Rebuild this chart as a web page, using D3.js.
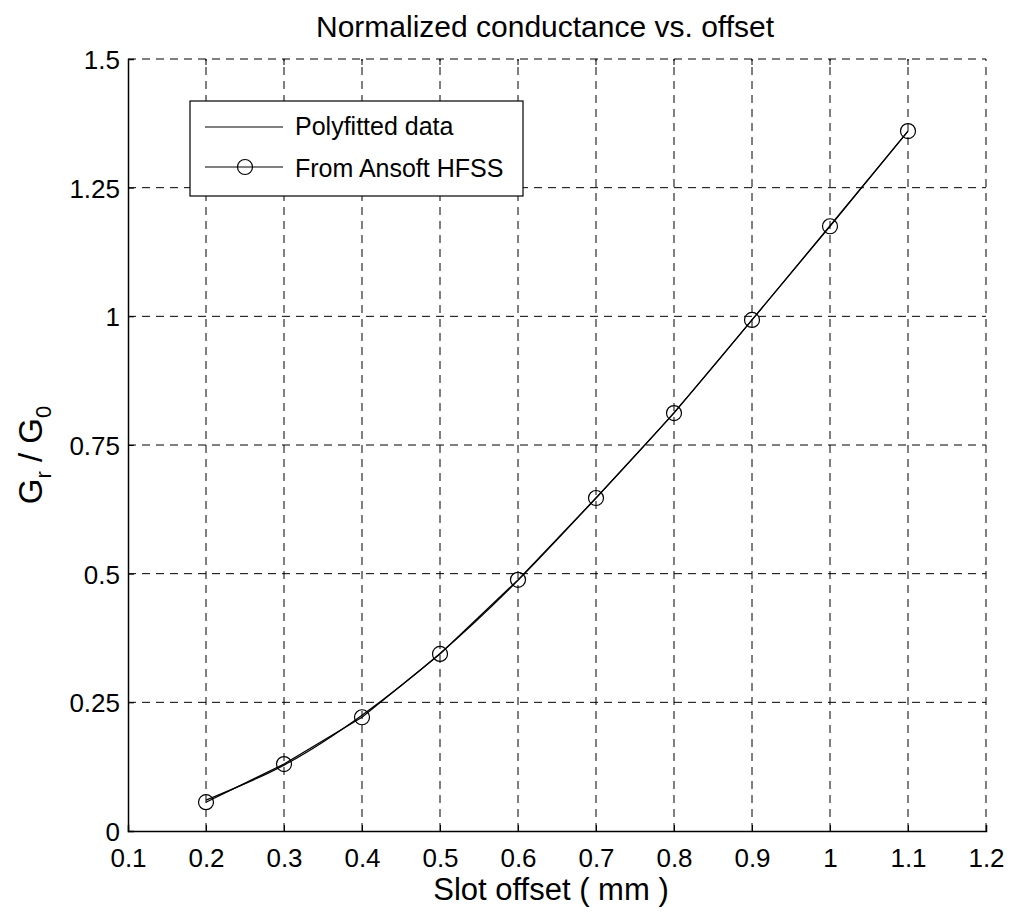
<!DOCTYPE html>
<html><head><meta charset="utf-8">
<script src="https://cdn.jsdelivr.net/npm/d3@7"></script>
<style>body{margin:0;background:#fff;} text{font-family:"Liberation Sans",Arial,sans-serif;fill:#000;}</style>
</head><body>
<script>
const offsets = [0.2,0.3,0.4,0.5,0.6,0.7,0.8,0.9,1.0,1.1];
const hfssValues = [0.056,0.130,0.221,0.344,0.488,0.647,0.812,0.993,1.175,1.360];
const polyValues = [0.060,0.128,0.225,0.345,0.487,0.647,0.813,0.993,1.176,1.360];
const xTicks = [0.1,0.2,0.3,0.4,0.5,0.6,0.7,0.8,0.9,1,1.1,1.2];
const yTicks = [0,0.25,0.5,0.75,1,1.25,1.5];
const seriesNames = ["Polyfitted data","From Ansoft HFSS"];
const title = "Normalized conductance vs. offset";
const xLabel = "Slot offset ( mm )";

const W=1013,H=924;
const m={l:128,r:1013-986,t:59,b:924-831};
const svg=d3.select("body").append("svg").attr("width",W).attr("height",H);
const x=d3.scaleLinear().domain([0.1,1.2]).range([m.l,W-m.r]);
const y=d3.scaleLinear().domain([0,1.5]).range([H-m.b,m.t]);

// grid
const g=svg.append("g").attr("stroke","#000").attr("stroke-width",1).attr("stroke-dasharray","8,6");
xTicks.forEach(t=>{ if(t>0.1) g.append("line").attr("x1",x(t)).attr("x2",x(t)).attr("y1",y(0)).attr("y2",y(1.5)); });
yTicks.forEach(t=>{ if(t>0) g.append("line").attr("x1",x(0.1)).attr("x2",x(1.2)).attr("y1",y(t)).attr("y2",y(t)); });

// axes
const xAxis=d3.axisBottom(x).tickValues(xTicks).tickSize(-6).tickPadding(10).tickFormat(d=>String(d));
const yAxis=d3.axisLeft(y).tickValues(yTicks).tickSize(-6).tickPadding(8).tickFormat(d=>String(d));
const gx=svg.append("g").attr("transform",`translate(0,${y(0)})`).call(xAxis);
const gy=svg.append("g").attr("transform",`translate(${x(0.1)},0)`).call(yAxis);
[gx,gy].forEach(a=>{a.select(".domain").attr("stroke","#000").attr("stroke-width",1.5);
  a.selectAll(".tick line").attr("stroke","#000");
  a.selectAll("text").attr("font-size",26).attr("font-family","Liberation Sans, Arial, sans-serif");});
gx.selectAll("text").attr("dy",null).attr("y",null).attr("transform","translate(0,36)");
gy.selectAll("text").attr("dy","0.36em");
// top ticks
svg.append("g").selectAll("line").data(xTicks.slice(1,-1)).join("line")
  .attr("x1",d=>x(d)).attr("x2",d=>x(d)).attr("y1",y(1.5)).attr("y2",y(1.5)+6).attr("stroke","#000");

// poly line
svg.append("path").datum(offsets.map((o,i)=>[o,polyValues[i]]))
  .attr("fill","none").attr("stroke","#000").attr("stroke-width",1.2)
  .attr("d",d3.line().x(d=>x(d[0])).y(d=>y(d[1])).curve(d3.curveNatural));
// hfss line + markers
svg.append("path").datum(offsets.map((o,i)=>[o,hfssValues[i]]))
  .attr("fill","none").attr("stroke","#000").attr("stroke-width",1.2)
  .attr("d",d3.line().x(d=>x(d[0])).y(d=>y(d[1])));
svg.append("g").selectAll("circle").data(offsets.map((o,i)=>[o,hfssValues[i]])).join("circle")
  .attr("cx",d=>x(d[0])).attr("cy",d=>y(d[1])).attr("r",7.5)
  .attr("fill","none").attr("stroke","#000").attr("stroke-width",1.2);

// legend
const lg=svg.append("g");
lg.append("rect").attr("x",190).attr("y",101).attr("width",333).attr("height",95)
  .attr("fill","#fff").attr("stroke","#000").attr("stroke-width",1.2);
lg.append("line").attr("x1",205).attr("x2",283).attr("y1",127).attr("y2",127).attr("stroke","#000").attr("stroke-width",1);
lg.append("line").attr("x1",205).attr("x2",283).attr("y1",167).attr("y2",167).attr("stroke","#000").attr("stroke-width",1.2);
lg.append("circle").attr("cx",245).attr("cy",167).attr("r",7.5).attr("fill","none").attr("stroke","#000").attr("stroke-width",1.2);
lg.append("text").attr("x",295).attr("y",135).attr("font-size",25).text(seriesNames[0]);
lg.append("text").attr("x",295).attr("y",177).attr("font-size",25).text(seriesNames[1]);

// titles
svg.append("text").attr("x",545).attr("y",37).attr("text-anchor","middle").attr("font-size",30).text(title);
svg.append("text").attr("x",551).attr("y",900).attr("text-anchor","middle").attr("font-size",31).text(xLabel);
const yl=svg.append("text").attr("transform",`translate(42,455) rotate(-90)`).attr("text-anchor","middle").attr("font-size",33);
yl.append("tspan").text("G");
yl.append("tspan").attr("font-size",22).attr("dy",9).text("r");
yl.append("tspan").attr("dy",-9).text(" / G");
yl.append("tspan").attr("font-size",22).attr("dy",9).text("0");
</script>
</body></html>
